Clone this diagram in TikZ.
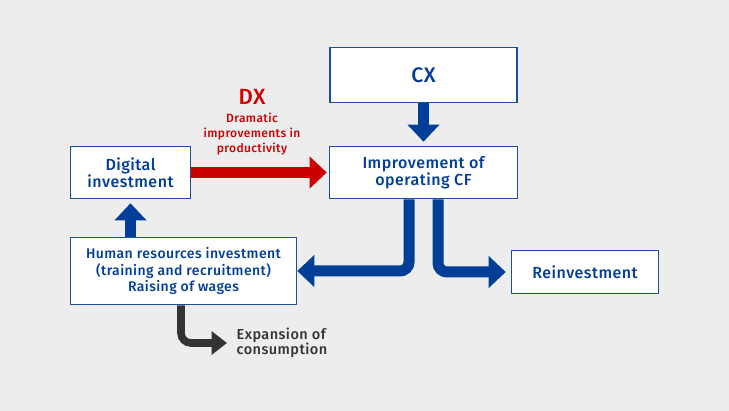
\documentclass[tikz,border=0pt]{standalone}
\usepackage{fontspec}
\setmainfont{Fira Sans}[BoldFont={Fira Sans Medium}, LetterSpace=3]
\usetikzlibrary{arrows.meta}
\definecolor{bgray}{HTML}{EDEDED}
\definecolor{navy}{HTML}{003E98}
\definecolor{boxblue}{HTML}{1C4EA0}
\definecolor{dxred}{HTML}{CC0000}
\definecolor{darkarrow}{HTML}{333333}
\begin{document}
\begin{tikzpicture}[x=1pt, y=-1pt]
        \tikzstyle{box} = [draw=boxblue, line width=1.6pt, fill=white, align=center, inner sep=0pt, text=navy, font=\bfseries\fontsize{16}{17}\selectfont]
        \tikzstyle{fat} = [line width=11pt, navy, -{Triangle[length=17pt, width=31pt]}]
        \fill[bgray] (0,0) rectangle (729,411);
        \node[box, minimum width=187pt, minimum height=55pt, font=\bfseries\fontsize{21}{23}\selectfont] (cx) at (423.5,75) {CX};
        \node[box, minimum width=188pt, minimum height=52pt] (opcf) at (423.5,172.5) {Improvement of\\operating CF};
        \node[box, minimum width=120pt, minimum height=52pt] (digital) at (130.5,172.5) {Digital\\investment};
        \node[box, minimum width=226pt, minimum height=67pt, font=\bfseries\fontsize{14}{16.6}\selectfont] (human) at (183.5,271) {Human resources investment\\(training and recruitment)\\Raising of wages};
        \node[box, minimum width=147pt, minimum height=43pt] (reinv) at (585,272) {Reinvestment};
        \node[text=dxred, inner sep=0pt, font=\bfseries\fontsize{22}{24}\selectfont] (dx) at (252,97) {DX};
        \node[text=dxred, inner sep=0pt, align=center, font=\bfseries\fontsize{12}{15}\selectfont] (dxnote) at (252,134) {Dramatic\\improvements in\\productivity};
        \node[anchor=west, inner sep=0pt, text=darkarrow, align=left, font=\bfseries\fontsize{14.5}{15}\selectfont] (consum) at (236.5,342.5) {Expansion of\\consumption};
        \coordinate (ctip) at (227,343);
        \draw[fat, shorten >=4pt] (cx.south) -- (opcf.north);
        \draw[fat, dxred] (digital.east) -- ([xshift=-2pt]opcf.west);
        \draw[fat, shorten >=4pt] (human.north -| digital.south) -- (digital.south);
        \draw[fat, rounded corners=9pt] ([xshift=-14.5pt]opcf.south) |- (human.east);
        \draw[fat, rounded corners=9pt, shorten >=5pt] ([xshift=14.5pt]opcf.south) |- (reinv.west);
        \draw[line width=7.6pt, darkarrow, rounded corners=10pt, -{Triangle[length=15.5pt, width=23pt]}] ([xshift=-2.5pt]human.south) |- (ctip);
\end{tikzpicture}
\end{document}
